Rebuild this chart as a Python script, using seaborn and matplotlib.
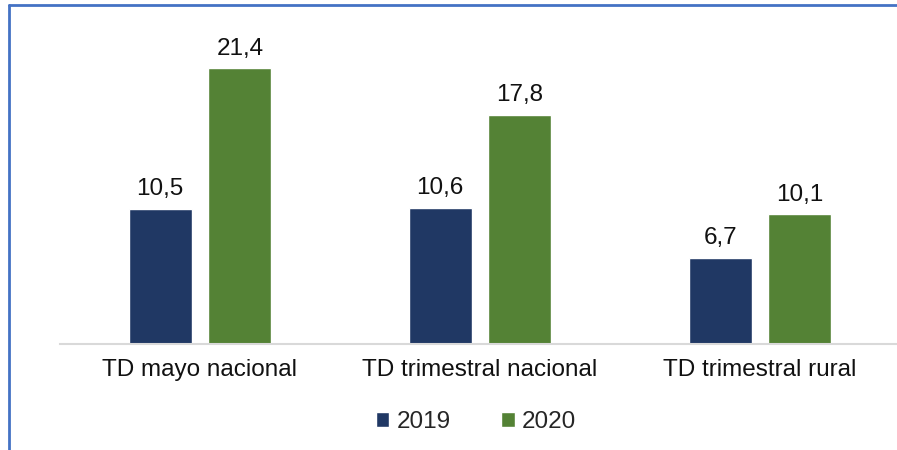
import matplotlib
matplotlib.use("Agg")
import matplotlib.pyplot as plt
import seaborn as sns
import pandas as pd
from matplotlib.lines import Line2D
from matplotlib.patches import Patch

categories = ["TD mayo nacional", "TD trimestral nacional", "TD trimestral rural"]
years = ["2019", "2020"]
values_2019 = [10.5, 10.6, 6.7]
values_2020 = [21.4, 17.8, 10.1]
colors = ["#203864", "#548235"]

df = pd.DataFrame({
    "cat": categories * 2,
    "year": [years[0]] * 3 + [years[1]] * 3,
    "val": values_2019 + values_2020,
})

sns.set_theme(style="white")
plt.rcParams["font.family"] = ["Liberation Sans", "DejaVu Sans"]

FS = 17.5
fig = plt.figure(figsize=(8.97, 4.5), dpi=100)
ax = fig.add_axes([60 / 897, 1 - 344 / 450, 840 / 897, 309 / 450])
sns.barplot(data=df, x="cat", y="val", hue="year", order=categories,
            hue_order=years, palette=colors, width=0.57, gap=0.21,
            ax=ax, legend=False, saturation=1)
ax.set_ylim(0, 24)
ax.set_xlim(-0.5, 2.5)
for c in ax.containers:
    ax.bar_label(c, labels=[f"{v:.1f}".replace(".", ",") for v in c.datavalues],
                 padding=6, fontsize=FS, color="#111111")
for s in ["top", "right", "left"]:
    ax.spines[s].set_visible(False)
ax.spines["bottom"].set_color("#D9D9D9")
ax.spines["bottom"].set_linewidth(1.5)
ax.set_yticks([])
ax.set_xlabel("")
ax.set_ylabel("")
ax.tick_params(axis="x", length=0, labelsize=FS, pad=11, colors="#111111")

handles = [Patch(facecolor=colors[i], label=years[i]) for i in range(2)]
fig.legend(handles=handles, loc="center", bbox_to_anchor=(476 / 897, 1 - 422 / 450),
           ncol=2, frameon=False, fontsize=FS, handlelength=0.55, handleheight=0.55,
           handletextpad=0.3, columnspacing=2.1)

fig.add_artist(Line2D([9 / 897, 1], [1 - 4.5 / 450] * 2, transform=fig.transFigure,
                      color="#4472C4", lw=2))
fig.add_artist(Line2D([9 / 897] * 2, [0, 1 - 4.5 / 450], transform=fig.transFigure,
                      color="#4472C4", lw=2))

fig.savefig("out.png", dpi=100)
